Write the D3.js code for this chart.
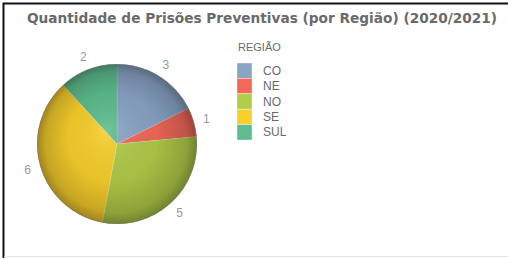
<!DOCTYPE html>
<html>
<head>
<meta charset="utf-8">
<script src="https://cdn.jsdelivr.net/npm/d3@7"></script>
<style>
  body { margin: 0; background: #fff; }
  svg { display: block; }
</style>
</head>
<body>
<script>
var regioes = ["CO", "NE", "NO", "SE", "SUL"];
var prisoes = [3, 1, 5, 6, 2];
var cores = ["#8aa4c6", "#f2695a", "#b0cc48", "#f8cf2c", "#5dbd8e"];

var width = 508, height = 258;

var svg = d3.select("body").append("svg")
    .attr("width", width)
    .attr("height", height);

// moldura
svg.append("path")
    .attr("d", "M3.5," + height + "V3.5H" + width)
    .attr("fill", "none")
    .attr("stroke", "#111")
    .attr("stroke-width", 2);
svg.append("line")
    .attr("x1", 4).attr("x2", width)
    .attr("y1", 256.5).attr("y2", 256.5)
    .attr("stroke", "#e4e4e4");

svg.append("text")
    .attr("x", 27)
    .attr("y", 23)
    .attr("textLength", 470)
    .attr("lengthAdjust", "spacingAndGlyphs")
    .style("font-family", "DejaVu Sans, Verdana, sans-serif")
    .style("font-weight", "bold")
    .style("font-size", "14.5px")
    .style("fill", "#6a6a6a")
    .text("Quantidade de Prisões Preventivas (por Região) (2020/2021)");

var data = regioes.map(function(r, i) { return { regiao: r, valor: prisoes[i] }; });

var color = d3.scaleOrdinal().domain(regioes).range(cores);

var radius = 80,
    cx = 117, cy = 144;

var pie = d3.pie()
    .sort(null)
    .value(function(d) { return d.valor; });

var arc = d3.arc().innerRadius(0).outerRadius(radius);
var labelArc = d3.arc().innerRadius(radius + 13).outerRadius(radius + 13);

var defs = svg.append("defs");
var grad = defs.append("radialGradient")
    .attr("id", "sombra")
    .attr("gradientUnits", "userSpaceOnUse")
    .attr("cx", 0).attr("cy", 0).attr("r", radius)
    .attr("fx", -10).attr("fy", -15);
grad.append("stop").attr("offset", "0%").attr("stop-color", "#fff").attr("stop-opacity", 0.12);
grad.append("stop").attr("offset", "55%").attr("stop-color", "#000").attr("stop-opacity", 0.06);
grad.append("stop").attr("offset", "88%").attr("stop-color", "#000").attr("stop-opacity", 0.2);
grad.append("stop").attr("offset", "100%").attr("stop-color", "#000").attr("stop-opacity", 0.36);

var g = svg.append("g")
    .attr("transform", "translate(" + cx + "," + cy + ")");

var arcs = pie(data);

g.selectAll(".fatia")
    .data(arcs)
  .enter().append("path")
    .attr("class", "fatia")
    .attr("d", arc)
    .attr("fill", function(d) { return color(d.data.regiao); })
    .attr("stroke", "#fff")
    .attr("stroke-opacity", 0.25)
    .attr("stroke-width", 0.6);

g.append("circle")
    .attr("r", radius)
    .attr("fill", "url(#sombra)");

g.append("circle")
    .attr("r", radius - 0.5)
    .attr("fill", "none")
    .attr("stroke", "#777")
    .attr("stroke-opacity", 0.5);

g.selectAll(".rotulo")
    .data(arcs)
  .enter().append("text")
    .attr("class", "rotulo")
    .attr("transform", function(d) { return "translate(" + labelArc.centroid(d) + ")"; })
    .attr("text-anchor", "middle")
    .attr("dy", "0.35em")
    .style("font-family", "Liberation Sans, Arial, sans-serif")
    .style("font-size", "12px")
    .style("fill", "#9a9a9a")
    .text(function(d) { return d.data.valor; });

// legenda
var legend = svg.append("g").attr("transform", "translate(237,45)");

legend.append("text")
    .attr("x", 1)
    .attr("y", 6)
    .style("font-family", "Liberation Sans, Arial, sans-serif")
    .style("font-size", "11px")
    .style("fill", "#6a6a6a")
    .text("REGIÃO");

var item = legend.selectAll(".item")
    .data(regioes)
  .enter().append("g")
    .attr("class", "item")
    .attr("transform", function(d, i) { return "translate(0," + (18 + i * 15.4) + ")"; });

item.append("rect")
    .attr("width", 15)
    .attr("height", 15.4)
    .attr("fill", function(d) { return color(d); })
    .attr("stroke", "#fff")
    .attr("stroke-opacity", 0.6)
    .attr("stroke-width", 0.6);

item.append("text")
    .attr("x", 26)
    .attr("y", 7.7)
    .attr("dy", "0.35em")
    .style("font-family", "Liberation Sans, Arial, sans-serif")
    .style("font-size", "12px")
    .style("fill", "#6a6a6a")
    .text(function(d) { return d; });
</script>
</body>
</html>
